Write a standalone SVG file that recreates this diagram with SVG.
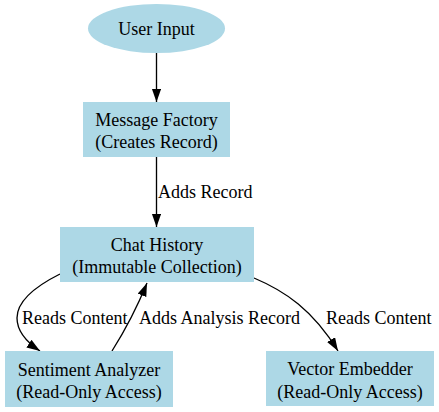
<svg xmlns="http://www.w3.org/2000/svg" width="439" height="412" viewBox="0 0 439 412">
<style>
.n{fill:#add8e6;stroke:none}
text{font-family:"Liberation Serif","Times New Roman",serif;font-size:18px;fill:#000}
.c{text-anchor:middle}
.e{fill:none;stroke:#000;stroke-width:1.33}
</style>
<defs>
<marker id="ah" markerUnits="userSpaceOnUse" markerWidth="14" markerHeight="10" refX="13.3" refY="4.65" orient="auto">
<path d="M0,0 L13.3,4.65 L0,9.3 Z" fill="#000"/>
</marker>
</defs>
<rect width="439" height="412" fill="#fff"/>
<g id="connectors">
<path class="e" d="M156.5,53 L156.5,102" marker-end="url(#ah)"/>
<path class="e" d="M156.5,157 L156.5,227" marker-end="url(#ah)"/>
<text x="158" y="198">Adds Record</text>
<path class="e" d="M60,274 C36,286 17,300 17,318 C17,333 28,343 40,351" marker-end="url(#ah)"/>
<text x="22" y="324">Reads Content</text>
<path class="e" d="M112,351 C124,332 136,310 147,283" marker-end="url(#ah)"/>
<text x="139" y="324">Adds Analysis Record</text>
<path class="e" d="M254,278 C285,291 313,310 338,351" marker-end="url(#ah)"/>
<text x="326" y="324">Reads Content</text>
</g>
<g id="user_input">
<ellipse class="n" cx="156.5" cy="28.5" rx="68.5" ry="24.5"/>
<text class="c" x="156.5" y="35">User Input</text>
</g>
<g id="message_factory">
<rect class="n" x="83" y="102" width="147" height="55"/>
<text class="c" x="156.5" y="126">Message Factory</text>
<text class="c" x="156.5" y="148.4">(Creates Record)</text>
</g>
<g id="chat_history">
<rect class="n" x="60" y="227" width="194" height="55"/>
<text class="c" x="157" y="251">Chat History</text>
<text class="c" x="157" y="273.4">(Immutable Collection)</text>
</g>
<g id="sentiment_analyzer">
<rect class="n" x="5" y="351" width="168" height="56"/>
<text class="c" x="89" y="375.5">Sentiment Analyzer</text>
<text class="c" x="89" y="398">(Read-Only Access)</text>
</g>
<g id="vector_embedder">
<rect class="n" x="266" y="351" width="168" height="55"/>
<text class="c" x="350" y="375">Vector Embedder</text>
<text class="c" x="350" y="397.5">(Read-Only Access)</text>
</g>
</svg>
